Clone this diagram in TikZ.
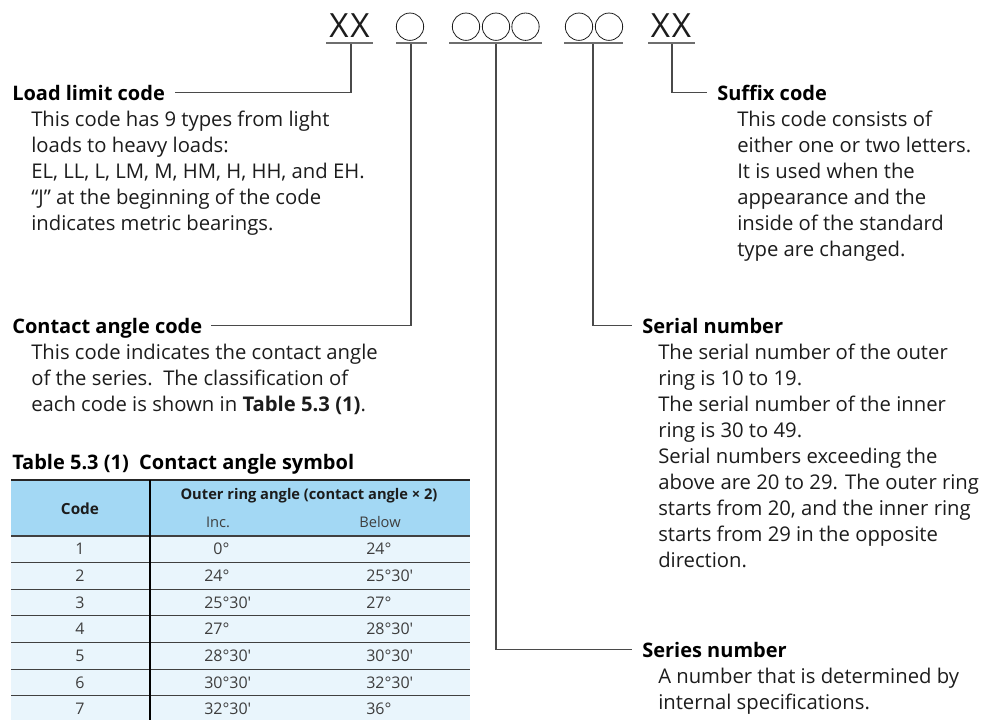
\documentclass[tikz,border=0pt]{standalone}
\usepackage{fontspec}
\setmainfont{Open Sans}
\usetikzlibrary{positioning}
\definecolor{bc-text}{HTML}{1C1C1C}
\definecolor{bc-line}{HTML}{4A4A4A}
\definecolor{bc-head}{HTML}{A3D8F4}
\definecolor{bc-row}{HTML}{E9F5FC}

\tikzset{
  codemark/.style={font=\fontsize{25}{25}\selectfont, text=bc-text, inner sep=0},
  ringmark/.style={circle, draw=bc-text, line width=0.6pt, minimum size=20.5pt, inner sep=0},
  underl/.style={line width=1.5pt, bc-line!80},
  leader/.style={line width=0.8pt, bc-line},
  heading/.style={font=\fontsize{15}{19.5}\selectfont\bfseries, text=black, inner sep=0,
    anchor=base west, text height=10.7pt, text depth=0pt},
  bodytext/.style={font=\fontsize{15.2}{19.5}\selectfont, text=bc-text, inner sep=0,
    anchor=north west, align=left},
  tabhead/.style={font=\fontsize{11}{13}\selectfont\bfseries, text=bc-text, inner sep=0},
  tabcell/.style={font=\fontsize{12}{14}\selectfont, text=bc-text!85, inner sep=0},
  tabrule/.style={line width=0.8pt, black!75},
}

\begin{document}
\begin{tikzpicture}[x=0.75pt, y=-0.75pt]
\useasboundingbox (0,0) rectangle (983,719);

% bearing number
\node[codemark] (cLoad) at (349.5,26) {X\kern1.5pt X};
\node[ringmark] (cAngle) at (410,26.7) {};
\node[ringmark] (cSer1) at (466,26.7) {};
\node[ringmark] (cSer2) at (496,26.7) {};
\node[ringmark] (cSer3) at (525.5,26.7) {};
\node[ringmark] (cNum1) at (579,26.7) {};
\node[ringmark] (cNum2) at (609,26.7) {};
\node[codemark] (cSuffix) at (671,26) {X\kern1.5pt X};

\draw[underl] (326,43) -- (373,43);
\draw[underl] (396,43) -- (427,43);
\draw[underl] (449,43) -- (542,43);
\draw[underl] (564,43) -- (623,43);
\draw[underl] (648,43) -- (695,43);

\coordinate (uLoad) at (351,44);
\coordinate (uAngle) at (411,44);
\coordinate (uSeries) at (496,44);
\coordinate (uSerial) at (593,44);
\coordinate (uSuffix) at (672,44);

% left column
\node[heading] (hLoad) at (12,100) {Load limit code};
\node[bodytext] (tLoad) at (31,107.8) {\strut This code has 9 types from light\\
  loads to heavy loads:\\
  EL, LL, L, LM, M, HM, H, HH, and EH.\\
  “J” at the beginning of the code\\
  indicates metric bearings.};

\node[heading] (hAngle) at (12,333) {Contact angle code};
\node[bodytext] (tAngle) at (31,340.8) {\strut This code indicates the contact angle\\
  of the series.\ \ The classification of\\
  each code is shown in \textbf{Table 5.3 (1)}.};

% right column
\node[heading] (hSuffix) at (717,100) {Suffix code};
\node[bodytext] (tSuffix) at (737,107.8) {\strut This code consists of\\
  either one or two letters.\\
  It is used when the\\
  appearance and the\\
  inside of the standard\\
  type are changed.};

\node[heading] (hSerial) at (642,333) {Serial number};
\node[bodytext] (tSerial) at (658,340.8) {\strut The serial number of the outer\\
  ring is 10 to 19.\\
  The serial number of the inner\\
  ring is 30 to 49.\\
  Serial numbers exceeding the\\
  above are 20 to 29. The outer ring\\
  starts from 20, and the inner ring\\
  starts from 29 in the opposite\\
  direction.};

\node[heading] (hSeries) at (642,657) {Series number};
\node[bodytext] (tSeries) at (658,664.8) {\strut A number that is determined by\\
  internal specifications.};

% leaders
\draw[leader] (uLoad) |- ([xshift=7.5pt]hLoad.east);
\draw[leader] (uAngle) |- ([xshift=6pt]hAngle.east);
\draw[leader] (uSuffix) |- ([xshift=-7.5pt]hSuffix.west);
\draw[leader] (uSerial) |- ([xshift=-7.5pt]hSerial.west);
\draw[leader] (uSeries) |- ([xshift=-7.5pt]hSeries.west);

% table 5.3 (1)
\node[heading, font=\fontsize{15}{17}\selectfont\bfseries] (tabTitle) at (12,469)
  {Table 5.3 (1)\ \ Contact angle symbol};
\fill[bc-head] (11,480) rectangle (470,536);
\fill[bc-row] (11,536) rectangle (470,730);
\node[tabhead, font=\fontsize{11.5}{13}\selectfont\bfseries] (thCode) at (80,509) {Code};
\node[tabhead] (thOuter) at (309,496) {Outer ring angle (contact angle × 2)};
\node[tabcell, font=\fontsize{11}{13}\selectfont] (thInc) at (218,522) {Inc.};
\node[tabcell, font=\fontsize{11}{13}\selectfont] (thBelow) at (380,522) {Below};
\foreach \k in {0,...,7}
  \draw[tabrule] (11,{536+26.65*\k}) -- (470,{536+26.65*\k});
\draw[line width=1.5pt, black!85] (11,480) -- (470,480);
\draw[tabrule, black] (150,480) -- (150,730);
\foreach \cd/\inc/\blw [count=\i from 0] in {1/\phantom{2}0°/24°, 2/24°/25°30′,
    3/25°30′/27°, 4/27°/28°30′, 5/28°30′/30°30′, 6/30°30′/32°30′, 7/32°30′/36°}{
  \pgfmathsetmacro{\ry}{536+26.65*\i+13.3+5.5}
  \node[tabcell, anchor=base] (code\cd) at (80,\ry) {\cd};
  \node[tabcell, anchor=base west] (inc\cd) at (204,\ry) {\inc};
  \node[tabcell, anchor=base west] (below\cd) at (366,\ry) {\blw};
}
\end{tikzpicture}
\end{document}
